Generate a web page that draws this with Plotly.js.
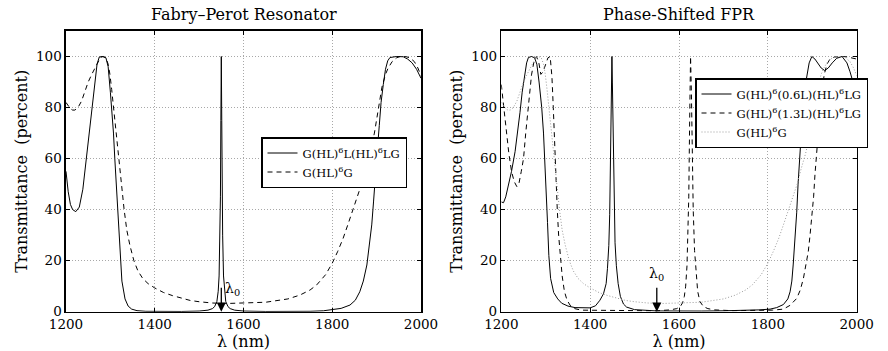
<!DOCTYPE html>
<html>
<head>
<meta charset="utf-8">
<script src="https://cdn.plot.ly/plotly-3.0.1.min.js"></script>
<style>html,body{margin:0;padding:0;background:#fff}#chart{width:888px;height:351px}</style>
</head>
<body>
<div id="chart"></div>
<script>
// ---- Left panel: Fabry-Perot resonator G(HL)^6 L (HL)^6 LG ----
const fprLam = [1200,1205,1210,1215,1222,1230,1238,1246,1253,1259,1265,1270,1275,1282,1290,1295,1300,1303,1307,1310,1313,1316,1319,1322,1326,1333,1340,1348,1360,1380,1420,1460,1500,1520,1530,1535,1540,1543,1545,1547,1548,1549,1550,1551,1552,1553,1555,1557,1560,1565,1570,1580,1600,1650,1700,1750,1780,1800,1820,1840,1852,1862,1870,1878,1884,1889,1893,1896,1901,1906,1910,1915,1920,1925,1930,1945,1960,1970,1980,1990,2000];
const fprT   = [55,47,42,40,39.2,41,48,60,70,80,90,97,99.8,100,99.5,96,86,80,70,60,50,40,30,20,12,5,2.2,1,0.4,0.15,0.05,0.08,0.25,0.6,1.2,2,4,8,14,30,45,75,100,75,45,30,14,8,4,2,1.2,0.6,0.25,0.08,0.05,0.15,0.35,0.7,1.3,2.6,4.5,7.8,12,18.3,26,34,43,51,62,73,82,89,95,98.3,99.6,100,99.9,99,97.5,95,91.5];

// ---- Quarter-wave stack G(HL)^6 G (used in both panels) ----
const qwLam = [1200,1205,1210,1215,1220,1227,1235,1242,1250,1258,1265,1272,1278,1284,1290,1295,1299,1303,1306,1309,1313,1317,1320,1325,1331,1337,1344,1353,1362,1373,1385,1400,1420,1440,1460,1480,1500,1530,1560,1600,1650,1700,1727,1750,1765,1785,1800,1812,1824,1835,1847,1858,1866,1875,1885,1895,1904,1912,1920,1926,1935,1945,1953,1965,1975,1985,1993,2000];
const qwT   = [82,80.5,79.5,79,79,80,82.5,86,90,93,95.5,98,99.7,100,99.5,97,93,87,82,77,70,62,57,49,40,32,26,20,16,13,11,9.3,7.5,6.3,5.2,4.4,3.9,3.4,3.2,3.3,3.7,5,6.5,8.5,10.5,14.5,19,23.5,28.5,34,40.5,46,50,56,62,70,80,88,93,95.5,98,99.5,100,100,99.5,98,95.5,92.5];

// ---- Right panel: G(HL)^6 (0.6L) (HL)^6 LG ----
const ps06Lam = [1200,1205,1210,1216,1223,1231,1237,1242,1247,1252,1257,1261,1268,1275,1280,1285,1291,1295,1298,1301,1304,1307,1311,1318,1327,1336,1350,1366,1385,1400,1412,1422,1430,1436,1439,1442,1444,1446,1448,1449,1450,1452,1454,1456,1459,1463,1468,1475,1482,1500,1550,1600,1650,1700,1750,1780,1805,1820,1835,1845,1850,1854,1857,1861,1865,1868,1871,1876,1881,1887,1893,1899,1906,1913,1920,1928,1936,1945,1955,1967,1978,1985,1990,2000];
const ps06T   = [43,42.7,45,49.7,55,62.7,70,78,86,92.8,97.5,99.6,100,99.5,97,90,80,70,60,48,35,22,13,7.5,5,3.3,2.2,1.6,1.4,1.5,2.3,4.5,7,11,17,26,38,60,88,100,90,62,40,27,18,11,6,3,1.8,0.8,0.3,0.2,0.25,0.35,0.5,0.7,1,1.6,2.8,5,7.8,12,18.3,28,39,50,60,72,83,91.5,97.5,100,99,97,95.5,94.5,95.5,97.5,99.3,100,97.5,94,91,85];

// ---- Right panel: G(HL)^6 (1.3L) (HL)^6 LG ----
const ps13Lam = [1200,1204,1208,1212,1217,1223,1229,1235,1240,1245,1250,1255,1261,1265,1268,1273,1279,1284,1289,1294,1300,1305,1310,1314,1317,1319,1321,1323,1326,1329,1333,1337,1342,1348,1355,1365,1380,1420,1460,1500,1550,1580,1595,1603,1608,1612,1615,1618,1620,1622,1624,1626,1628,1630,1632,1635,1638,1642,1647,1655,1665,1680,1720,1780,1810,1835,1850,1865,1873,1880,1886,1891,1895,1899,1903,1906,1910,1914,1918,1922,1927,1933,1940,1950,1960,1970,1980,1990,2000];
const ps13T   = [89,82,75,69,62,55,51,49,50.5,55,60,70,80,88,92.8,97.5,100,98,93,94,97.5,99.5,100,92,80,70,60,53,40,30,20,14,8,4.5,2.5,1.2,0.6,0.5,0.4,0.3,0.35,0.7,1.2,2,3.5,6,10,18,28,45,75,100,85,60,40,24,15,8,4,2,1.2,0.7,0.4,0.45,0.6,1,2.5,5.2,8.5,13,18,23.5,30,36.6,45,53.6,63.8,72,80,87,93,97,99,99.8,100,100,99.8,99.5,99];

const xTicks = [1200,1400,1600,1800,2000];
const yTicks = [0,20,40,60,80,100];
const lambda0 = 1550;

const FONT = "'DejaVu Serif', 'Liberation Serif', serif";
const BLACK = '#000';

const traces = [
  {x: fprLam, y: fprT, xaxis:'x', yaxis:'y', mode:'lines', name:'G(HL)<sup>6</sup>L(HL)<sup>6</sup>LG',
   line:{color:BLACK, width:1}, legend:'legend'},
  {x: qwLam, y: qwT, xaxis:'x', yaxis:'y', mode:'lines', name:'G(HL)<sup>6</sup>G',
   line:{color:BLACK, width:1, dash:'5px,4px'}, legend:'legend'},
  {x: ps06Lam, y: ps06T, xaxis:'x2', yaxis:'y2', mode:'lines', name:'G(HL)<sup>6</sup>(0.6L)(HL)<sup>6</sup>LG',
   line:{color:BLACK, width:1}, legend:'legend2'},
  {x: ps13Lam, y: ps13T, xaxis:'x2', yaxis:'y2', mode:'lines', name:'G(HL)<sup>6</sup>(1.3L)(HL)<sup>6</sup>LG',
   line:{color:BLACK, width:1, dash:'5px,4px'}, legend:'legend2'},
  {x: qwLam, y: qwT, xaxis:'x2', yaxis:'y2', mode:'lines', name:'G(HL)<sup>6</sup>G',
   line:{color:'#9a9a9a', width:1, dash:'1px,2px'}, legend:'legend2'}
];

function xa(domain, anchor){
  return {domain: domain, anchor: anchor, range:[1200,2000], tickvals:xTicks, ticktext:xTicks.map(String),
    showgrid:true, gridcolor:'#a8a8a8', griddash:'1px,2px', gridwidth:1,
    showline:true, linecolor:BLACK, linewidth:1.5, mirror:'ticks', ticks:'inside', ticklen:4, tickcolor:BLACK,
    zeroline:false, tickfont:{family:FONT, size:13.5, color:BLACK},
    title:{text:'λ (nm)', font:{family:FONT, size:16, color:BLACK}, standoff:2}};
}
function ya(domain, anchor){
  return {domain: domain, anchor: anchor, range:[0,110], tickvals:yTicks, ticktext:yTicks.map(String),
    showgrid:true, gridcolor:'#a8a8a8', griddash:'1px,2px', gridwidth:1,
    showline:true, linecolor:BLACK, linewidth:1.5, mirror:'ticks', ticks:'inside', ticklen:4, tickcolor:BLACK,
    zeroline:false, tickfont:{family:FONT, size:13.5, color:BLACK},
    title:{text:'Transmittance  (percent)', font:{family:FONT, size:16, color:BLACK}, standoff:4}};
}

const yd = [0.112, 0.9117];
const layout = {
  width:888, height:351, margin:{l:0, r:0, t:0, b:0},
  paper_bgcolor:'#fff', plot_bgcolor:'#fff',
  font:{family:FONT, color:BLACK},
  xaxis: xa([0.07432,0.47410],'y'),
  yaxis: ya(yd,'x'),
  xaxis2: xa([0.56453,0.96475],'y2'),
  yaxis2: ya(yd,'x2'),
  legend:{x:261/888, y:1-137/351, xanchor:'left', yanchor:'top', bgcolor:'#fff', bordercolor:BLACK, borderwidth:1.5,
    font:{family:FONT, size:11.5, color:BLACK}, tracegroupgap:0, itemwidth:30},
  legend2:{x:695/888, y:1-78/351, xanchor:'left', yanchor:'top', bgcolor:'#fff', bordercolor:BLACK, borderwidth:1.5,
    font:{family:FONT, size:11.5, color:BLACK}, tracegroupgap:0, itemwidth:30},
  showlegend:true,
  annotations:[
    {text:'Fabry–Perot Resonator', xref:'paper', yref:'paper', x:243.5/888, y:1-15/351, xanchor:'center', yanchor:'middle', showarrow:false,
     font:{family:FONT, size:16, color:BLACK}},
    {text:'Phase-Shifted FPR', xref:'paper', yref:'paper', x:679/888, y:1-15/351, xanchor:'center', yanchor:'middle', showarrow:false,
     font:{family:FONT, size:16, color:BLACK}},
    {text:'', xref:'x', yref:'y', x:lambda0, y:0, axref:'x', ayref:'y', ax:lambda0, ay:10, showarrow:true,
     arrowhead:2, arrowsize:1.4, arrowwidth:1.3, arrowcolor:BLACK, standoff:0},
    {text:'λ<sub>0</sub>', xref:'x', yref:'y', x:1575, y:9, xanchor:'center', yanchor:'middle', showarrow:false,
     font:{family:FONT, size:14, color:BLACK}},
    {text:'', xref:'x2', yref:'y2', x:lambda0, y:0, axref:'x2', ayref:'y2', ax:lambda0, ay:10, showarrow:true,
     arrowhead:2, arrowsize:1.4, arrowwidth:1.3, arrowcolor:BLACK, standoff:0},
    {text:'λ<sub>0</sub>', xref:'x2', yref:'y2', x:lambda0, y:14.8, xanchor:'center', yanchor:'middle', showarrow:false,
     font:{family:FONT, size:14, color:BLACK}}
  ]
};

Plotly.newPlot('chart', traces, layout, {staticPlot:true, displayModeBar:false});
</script>
</body>
</html>
